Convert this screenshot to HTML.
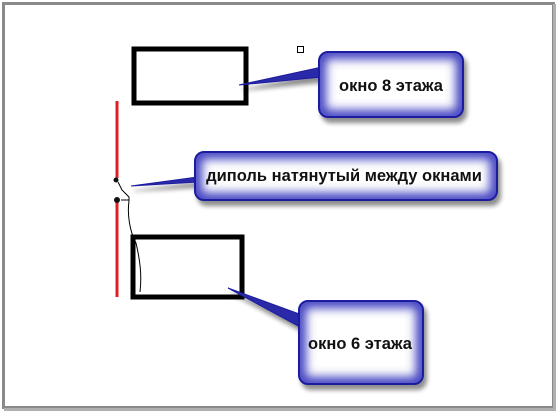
<!DOCTYPE html>
<html><head><meta charset="utf-8"><style>
html,body{margin:0;padding:0;background:#fff;}
svg{display:block;}
text{font-family:"Liberation Sans",sans-serif;font-weight:bold;font-size:16.5px;fill:#111;}
</style></head><body>
<svg width="556" height="411" viewBox="0 0 556 411">
<defs>
<filter id="b" x="-10%" y="-10%" width="120%" height="120%"><feGaussianBlur stdDeviation="5"/></filter>
<filter id="s" x="-20%" y="-20%" width="140%" height="150%">
<feGaussianBlur in="SourceAlpha" stdDeviation="2.5"/>
<feOffset dx="3" dy="5"/>
<feComponentTransfer><feFuncA type="linear" slope="0.45"/></feComponentTransfer>
<feMerge><feMergeNode/><feMergeNode in="SourceGraphic"/></feMerge>
</filter>
<clipPath id="c1"><rect x="319" y="52" width="144" height="65" rx="9"/></clipPath>
<clipPath id="c2"><rect x="195" y="152" width="302" height="48" rx="9"/></clipPath>
<clipPath id="c3"><rect x="299" y="301" width="124" height="83" rx="9"/></clipPath>
</defs>
<rect x="0" y="0" width="556" height="411" fill="#fff"/>
<rect x="3.5" y="3.5" width="550" height="404" fill="none" stroke="#8a8a8a" stroke-width="3"/>
<rect x="553" y="4" width="3" height="407" fill="#b0b0b0"/>
<rect x="4" y="408" width="552" height="3" fill="#b0b0b0"/>
<rect x="134" y="49" width="112" height="54" fill="none" stroke="#000" stroke-width="5"/>
<rect x="133" y="237" width="109" height="60" fill="none" stroke="#000" stroke-width="5"/>
<line x1="117" y1="101" x2="117" y2="178" stroke="#e02020" stroke-width="3"/>
<line x1="117" y1="200" x2="117" y2="297" stroke="#e02020" stroke-width="3"/>
<circle cx="116" cy="180" r="2.5" fill="#111"/>
<circle cx="117" cy="200" r="3" fill="#111"/>
<path d="M118 182 L122 190 L129 197 L129 201 M129 201 C127 215 130 232 136 243 C140 260 142 275 140 292" fill="none" stroke="#000" stroke-width="1"/>
<line x1="121" y1="200" x2="129" y2="200" stroke="#000" stroke-width="1"/>
<rect x="297.5" y="46.5" width="6" height="6" fill="#fff" stroke="#000" stroke-width="1"/>

<g filter="url(#s)">
<polygon points="322,77 239,85 322,67" fill="#2a2aa8" stroke="#1c1ca0"/>
<rect x="319" y="52" width="144" height="65" rx="9" fill="#fff"/>
<rect x="319" y="52" width="144" height="65" rx="9" fill="none" stroke="#3c3cc0" stroke-width="14" clip-path="url(#c1)" filter="url(#b)"/>
<rect x="319" y="52" width="144" height="65" rx="9" fill="none" stroke="#1c1ca0" stroke-width="2"/>
</g>
<text x="391" y="91" text-anchor="middle">окно 8 этажа</text>

<g filter="url(#s)">
<polygon points="198,182 131,186 198,177" fill="#2a2aa8" stroke="#1c1ca0"/>
<rect x="195" y="152" width="302" height="48" rx="9" fill="#fff"/>
<rect x="195" y="152" width="302" height="48" rx="9" fill="none" stroke="#3c3cc0" stroke-width="14" clip-path="url(#c2)" filter="url(#b)"/>
<rect x="195" y="152" width="302" height="48" rx="9" fill="none" stroke="#1c1ca0" stroke-width="2"/>
</g>
<text x="344" y="181" text-anchor="middle">диполь натянутый между окнами</text>

<g filter="url(#s)">
<polygon points="302,328 228,288 302,315" fill="#2a2aa8" stroke="#1c1ca0"/>
<rect x="299" y="301" width="124" height="83" rx="9" fill="#fff"/>
<rect x="299" y="301" width="124" height="83" rx="9" fill="none" stroke="#3c3cc0" stroke-width="14" clip-path="url(#c3)" filter="url(#b)"/>
<rect x="299" y="301" width="124" height="83" rx="9" fill="none" stroke="#1c1ca0" stroke-width="2"/>
</g>
<text x="360" y="349" text-anchor="middle">окно 6 этажа</text>
</svg>
</body></html>
